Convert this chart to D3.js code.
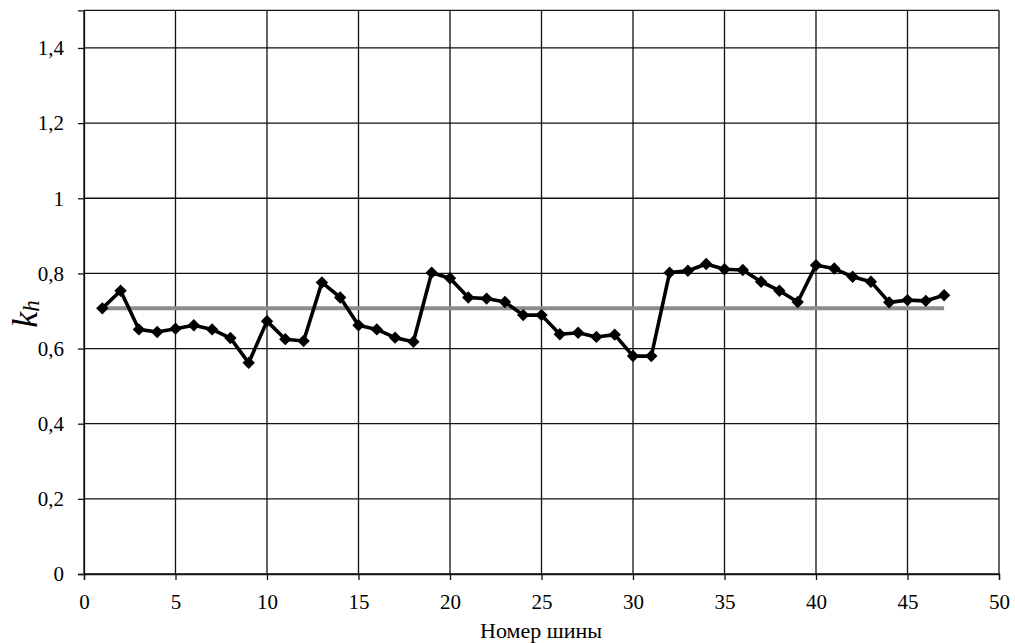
<!DOCTYPE html>
<html>
<head>
<meta charset="utf-8">
<script src="https://cdn.jsdelivr.net/npm/d3@7"></script>
<style>
  body { margin: 0; background: #fff; }
  text { font-family: "Liberation Serif", "Times New Roman", serif; fill: #000; }
</style>
</head>
<body>
<svg id="chart" width="1015" height="643"></svg>
<script>
// Bus numbers and the measured coefficient k_h for each bus
const busNumbers = d3.range(1, 48);
const khValues = [
  0.707, 0.754, 0.651, 0.644, 0.653, 0.662, 0.651, 0.628, 0.562, 0.673,
  0.625, 0.620, 0.776, 0.736, 0.662, 0.651, 0.629, 0.618, 0.802, 0.787,
  0.736, 0.733, 0.724, 0.689, 0.689, 0.638, 0.642, 0.631, 0.637, 0.580,
  0.580, 0.802, 0.807, 0.825, 0.811, 0.809, 0.778, 0.754, 0.724, 0.822,
  0.813, 0.791, 0.778, 0.723, 0.729, 0.727, 0.742
];
// Average level drawn across the buses
const khMean = 0.707;
const meanSpan = [1, 47];

const xTicks = [0, 5, 10, 15, 20, 25, 30, 35, 40, 45, 50];
const yTicks = [0, 0.2, 0.4, 0.6, 0.8, 1.0, 1.2, 1.4];
const xDomain = [0, 50];
const yDomain = [0, 1.5];

const svg = d3.select("#chart");
const plotLeft = 84, plotRight = 999, plotBottom = 574, plotTop = 10.4;

const x = d3.scaleLinear().domain(xDomain).range([plotLeft, plotRight]);
const y = d3.scaleLinear().domain(yDomain).range([plotBottom, plotTop]);

const fmt = v => String(+v.toFixed(1)).replace(".", ",");

// Grid
const grid = svg.append("g").attr("stroke", "#111").attr("stroke-width", 1.3);
xTicks.forEach(t => grid.append("line")
  .attr("x1", x(t)).attr("x2", x(t)).attr("y1", y(yDomain[1])).attr("y2", y(0)));
yTicks.concat([yDomain[1]]).forEach(t => grid.append("line")
  .attr("x1", x(0)).attr("x2", x(xDomain[1])).attr("y1", y(t)).attr("y2", y(t)));

// Axes
const xAxis = d3.axisBottom(x).tickValues(xTicks).tickFormat(fmt).tickSize(6).tickPadding(14);
const yAxis = d3.axisLeft(y).tickValues(yTicks).tickFormat(fmt).tickSize(6).tickPadding(14);

const gx = svg.append("g").attr("transform", `translate(0,${plotBottom})`).call(xAxis);
const gy = svg.append("g").attr("transform", `translate(${plotLeft},0)`).call(yAxis);
[gx, gy].forEach(g => {
  g.attr("font-family", null).attr("font-size", null);
  g.select(".domain").attr("stroke", "#111").attr("stroke-width", 1.3);
  g.selectAll(".tick line").attr("stroke", "#111").attr("stroke-width", 1.3);
  g.selectAll(".tick text")
    .style("font-family", '"Liberation Serif", serif')
    .style("font-size", "21px")
    .attr("fill", "#222");
});

// Mean level
svg.append("line")
  .attr("x1", x(meanSpan[0])).attr("x2", x(meanSpan[1]))
  .attr("y1", y(khMean)).attr("y2", y(khMean))
  .attr("stroke", "#8c8c8c").attr("stroke-width", 4);

// Data series
const pts = busNumbers.map((b, i) => [b, khValues[i]]);
svg.append("path")
  .datum(pts)
  .attr("fill", "none")
  .attr("stroke", "#000")
  .attr("stroke-width", 3.6)
  .attr("stroke-linejoin", "round")
  .attr("d", d3.line().x(d => x(d[0])).y(d => y(d[1])));

const r = 6.2;
svg.append("g").selectAll("path")
  .data(pts)
  .join("path")
  .attr("transform", d => `translate(${x(d[0])},${y(d[1])})`)
  .attr("d", `M0,${-r}L${r},0L0,${r}L${-r},0Z`)
  .attr("fill", "#000");

// Axis titles
svg.append("text")
  .attr("x", 541).attr("y", 638)
  .attr("text-anchor", "middle")
  .style("font-size", "22px")
  .attr("fill", "#222")
  .text("Номер шины");

const yt = svg.append("text")
  .attr("transform", `translate(37,314) rotate(-90)`)
  .attr("text-anchor", "middle")
  .style("font-style", "italic");
yt.append("tspan").style("font-size", "36px").text("k");
yt.append("tspan").style("font-size", "23px").attr("dy", "0.08em").text("h");
</script>
</body>
</html>
